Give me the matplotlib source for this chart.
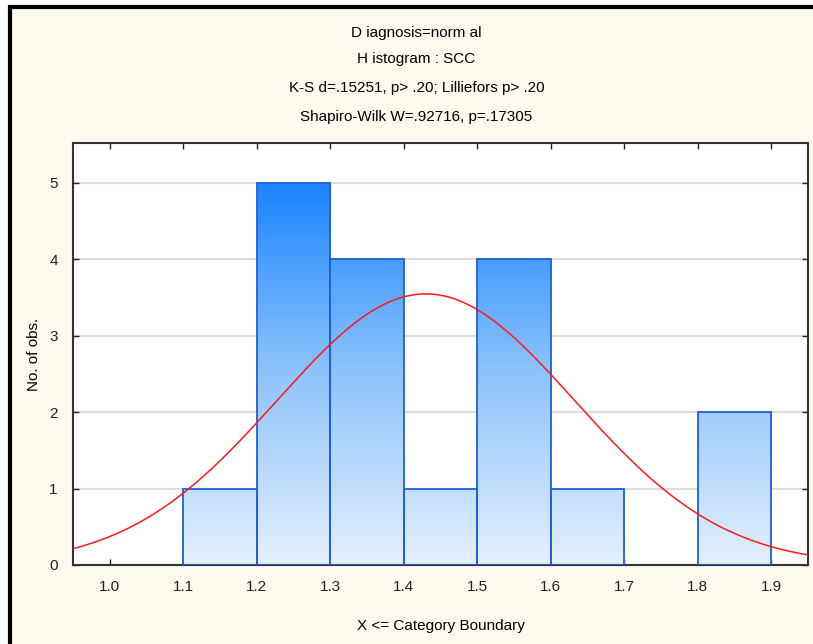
import numpy as np
import matplotlib
matplotlib.use('Agg')
import matplotlib.pyplot as plt
from matplotlib.colors import LinearSegmentedColormap
from matplotlib.patches import Rectangle

# histogram data
bin_edges = [1.1, 1.2, 1.3, 1.4, 1.5, 1.6, 1.7, 1.8, 1.9]
counts = [1, 5, 4, 1, 4, 1, 0, 2]
x_ticks = [1.0, 1.1, 1.2, 1.3, 1.4, 1.5, 1.6, 1.7, 1.8, 1.9]
y_ticks = [0, 1, 2, 3, 4, 5]

# fitted normal curve parameters
fit_mean = 1.43
fit_sd = 0.2025

title_lines = ['D iagnosis=norm al', 'H istogram : SCC',
               'K-S d=.15251, p> .20; Lilliefors p> .20',
               'Shapiro-Wilk W=.92716, p=.17305']

bg = '#fef9ee'
plt.rcParams['font.family'] = ['Liberation Sans', 'DejaVu Sans']

fig = plt.figure(figsize=(8.13, 6.44), dpi=100)
fig.patch.set_facecolor('white')

# cream panel with black frame on top/left
panel = fig.add_axes([0, 0, 1, 1], zorder=-5)
panel.set_xlim(0, 813)
panel.set_ylim(644, 0)
panel.axis('off')
panel.add_patch(Rectangle((8, 5), 810, 650, facecolor=bg, edgecolor='none'))
panel.plot([9.5, 9.5], [5, 644], color='black', lw=3, solid_capstyle='butt')
panel.plot([8, 813], [6.5, 6.5], color='black', lw=3, solid_capstyle='butt')

W, H = 813, 644
L, R, T, B = 73, 808, 143, 565
ax = fig.add_axes([L / W, 1 - B / H, (R - L) / W, (B - T) / H])
ax.set_facecolor('white')

cmap = LinearSegmentedColormap.from_list('bars', ['#e4f0fd', '#8fc3fb', '#1a84ff'])
grad = np.linspace(0, 1, 256).reshape(-1, 1)

for yv in y_ticks[1:]:
    ax.axhline(yv, color='#dcdcdc', lw=1.5, zorder=1)

for i, c in enumerate(counts):
    if c == 0:
        continue
    x0, x1 = bin_edges[i], bin_edges[i + 1]
    rect = Rectangle((x0, 0), x1 - x0, c, facecolor='none',
                     edgecolor='#1f5fd6', lw=1.3, zorder=3)
    im = ax.imshow(grad, extent=[x0, x1, 0, 5], origin='lower', cmap=cmap,
                   aspect='auto', zorder=2, interpolation='bilinear')
    clip = Rectangle((x0, 0), x1 - x0, c, transform=ax.transData)
    im.set_clip_path(clip)
    ax.add_patch(rect)

ax.set_xlim(0.95, 1.95)
ax.set_ylim(0, 5.52)

xs = np.linspace(0.95, 1.95, 400)
n_total = sum(counts)
bw = bin_edges[1] - bin_edges[0]
ys = n_total * bw / (fit_sd * np.sqrt(2 * np.pi)) * np.exp(-0.5 * ((xs - fit_mean) / fit_sd) ** 2)
ax.plot(xs, ys, color='#ff1a1a', lw=1.1, zorder=4)

ax.set_xticks(x_ticks)
ax.set_xticklabels([f'{v:.1f}' for v in x_ticks])
ax.set_yticks(y_ticks)
ax.tick_params(direction='in', length=4, width=1, top=True, right=True,
               labelsize=11, colors='#222222', pad=11)
ax.tick_params(axis='y', pad=11)
for s in ax.spines.values():
    s.set_color('#333333')
    s.set_linewidth(1.5)

ax.set_xlabel('X <= Category Boundary', fontsize=11, labelpad=18)
ax.set_ylabel('No. of obs.', fontsize=11, labelpad=6)

for txt, yp in zip(title_lines, [33, 59, 88, 117]):
    fig.text(0.5 + 10 / W, 1 - yp / H, txt, ha='center', va='center', fontsize=11)

fig.savefig('out.png', dpi=100)
